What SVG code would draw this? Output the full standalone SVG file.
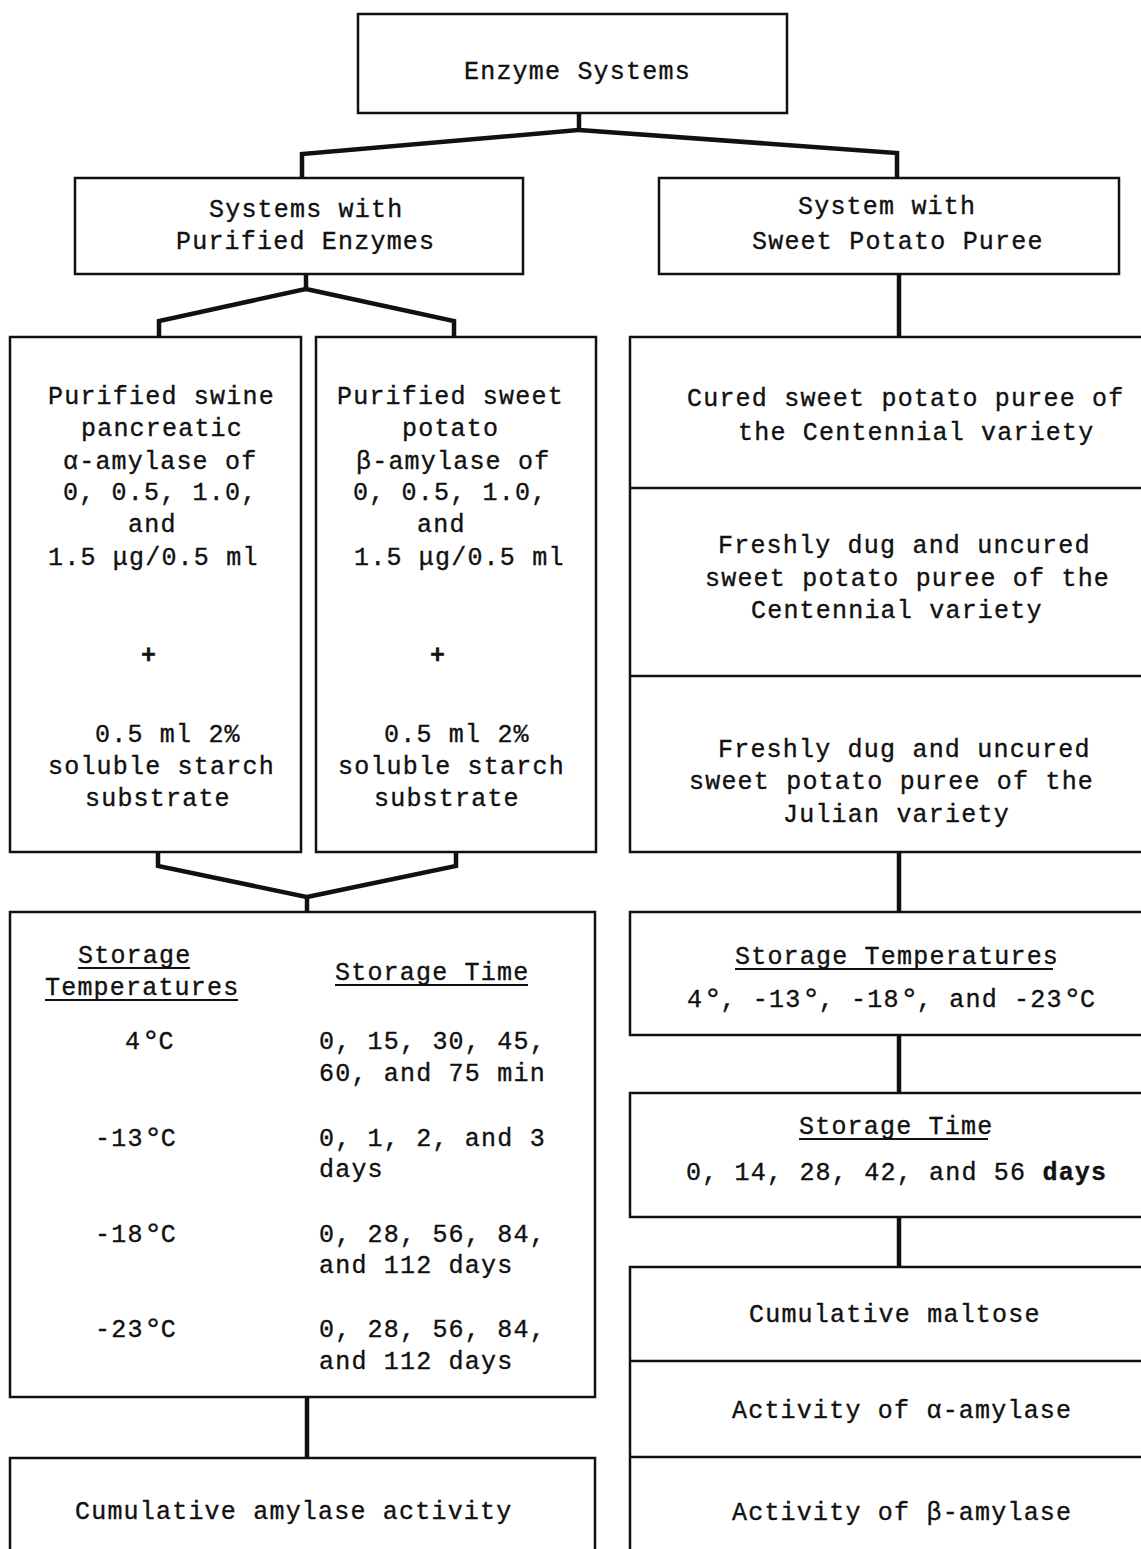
<svg xmlns="http://www.w3.org/2000/svg" width="1141" height="1549" viewBox="0 0 1141 1549">
<style>
 .box{fill:none;stroke:#111;stroke-width:2.5}
 .div{stroke:#111;stroke-width:2.5}
 .conn{fill:none;stroke:#111;stroke-width:4.5;stroke-linejoin:miter}
 text{font-family:"Liberation Mono","DejaVu Sans Mono",monospace;font-size:25px;letter-spacing:1.2px;fill:#111;stroke:#111;stroke-width:0.35}
 .ul{stroke:#111;stroke-width:2}
 .deg{font-size:32px;letter-spacing:-2px}
 .plus{font-weight:bold}
 .b{font-weight:bold}
</style>
<rect width="1141" height="1549" fill="#fff"/>
<g id="connectors">
 <path class="conn" d="M579,113 V130 L302,154 V178 M579,130 L897,153 V178"/>
 <path class="conn" d="M306,274 V289 L159,321 V337 M306,289 L454,321 V337"/>
 <path class="conn" d="M899,274 V337"/>
 <path class="conn" d="M158,852 V866 L307,897 V912 M456,852 V866 L307,897"/>
 <path class="conn" d="M307,1397 V1458"/>
 <path class="conn" d="M899,852 V912"/>
 <path class="conn" d="M899,1035 V1093"/>
 <path class="conn" d="M899,1217 V1267"/>
</g>
<g id="n-enzyme-systems">
 <rect class="box" x="358" y="14" width="429" height="99"/>
 <text x="464" y="79">Enzyme Systems</text>
</g>
<g id="n-purified-systems">
 <rect class="box" x="75" y="178" width="448" height="96"/>
 <text x="209" y="217">Systems with</text>
 <text x="176" y="249">Purified Enzymes</text>
</g>
<g id="n-sweet-system">
 <rect class="box" x="659" y="178" width="460" height="96"/>
 <text x="798" y="214">System with</text>
 <text x="752" y="249">Sweet Potato Puree</text>
</g>
<g id="n-alpha-amylase">
 <rect class="box" x="10" y="337" width="291" height="515"/>
 <text x="48" y="404">Purified swine</text>
 <text x="81" y="436">pancreatic</text>
 <text x="63" y="469">α-amylase of</text>
 <text x="63" y="500">0, 0.5, 1.0,</text>
 <text x="128" y="532">and</text>
 <text x="48" y="565">1.5 μg/0.5 ml</text>
 <text class="plus" x="141" y="663">+</text>
 <text x="95" y="742">0.5 ml 2%</text>
 <text x="48" y="774">soluble starch</text>
 <text x="85" y="806">substrate</text>
</g>
<g id="n-beta-amylase">
 <rect class="box" x="316" y="337" width="280" height="515"/>
 <text x="337" y="404">Purified sweet</text>
 <text x="402" y="436">potato</text>
 <text x="356" y="469">β-amylase of</text>
 <text x="353" y="500">0, 0.5, 1.0,</text>
 <text x="417" y="532">and</text>
 <text x="354" y="565">1.5 μg/0.5 ml</text>
 <text class="plus" x="430" y="663">+</text>
 <text x="384" y="742">0.5 ml 2%</text>
 <text x="338" y="774">soluble starch</text>
 <text x="374" y="806">substrate</text>
</g>
<g id="n-puree">
 <rect class="box" x="630" y="337" width="530" height="515"/>
 <line class="div" x1="630" y1="488" x2="1160" y2="488"/>
 <line class="div" x1="630" y1="676" x2="1160" y2="676"/>
 <text x="687" y="406">Cured sweet potato puree of</text>
 <text x="738" y="440">the Centennial variety</text>
 <text x="718" y="553">Freshly dug and uncured</text>
 <text x="705" y="586">sweet potato puree of the</text>
 <text x="751" y="618">Centennial variety</text>
 <text x="718" y="757">Freshly dug and uncured</text>
 <text x="689" y="789">sweet potato puree of the</text>
 <text x="783" y="822">Julian variety</text>
</g>
<g id="n-storage-left">
 <rect class="box" x="10" y="912" width="585" height="485"/>
 <text x="78" y="963">Storage</text>
 <line class="ul" x1="78" y1="968" x2="190" y2="968"/>
 <text x="45" y="995">Temperatures</text>
 <line class="ul" x1="45" y1="1000" x2="238" y2="1000"/>
 <text x="335" y="980">Storage Time</text>
 <line class="ul" x1="335" y1="985" x2="528" y2="985"/>
 <text x="125" y="1049">4<tspan class="deg" dy="2">°</tspan><tspan dy="-2">C</tspan></text>
 <text x="95" y="1146">-13<tspan class="deg" dy="2">°</tspan><tspan dy="-2">C</tspan></text>
 <text x="95" y="1242">-18<tspan class="deg" dy="2">°</tspan><tspan dy="-2">C</tspan></text>
 <text x="95" y="1337">-23<tspan class="deg" dy="2">°</tspan><tspan dy="-2">C</tspan></text>
 <text x="319" y="1049">0, 15, 30, 45,</text>
 <text x="319" y="1081">60, and 75 min</text>
 <text x="319" y="1146">0, 1, 2, and 3</text>
 <text x="319" y="1177">days</text>
 <text x="319" y="1242">0, 28, 56, 84,</text>
 <text x="319" y="1273">and 112 days</text>
 <text x="319" y="1337">0, 28, 56, 84,</text>
 <text x="319" y="1369">and 112 days</text>
</g>
<g id="n-cumulative-amylase">
 <rect class="box" x="10" y="1458" width="585" height="110"/>
 <text x="75" y="1519">Cumulative amylase activity</text>
</g>
<g id="n-storage-temperatures">
 <rect class="box" x="630" y="912" width="530" height="123"/>
 <text x="735" y="964">Storage Temperatures</text>
 <line class="ul" x1="735" y1="969" x2="1053" y2="969"/>
 <text x="687" y="1007">4<tspan class="deg" dy="2">°</tspan><tspan dy="-2">, -13</tspan><tspan class="deg" dy="2">°</tspan><tspan dy="-2">, -18</tspan><tspan class="deg" dy="2">°</tspan><tspan dy="-2">, and -23</tspan><tspan class="deg" dy="2">°</tspan><tspan dy="-2">C</tspan></text>
</g>
<g id="n-storage-time">
 <rect class="box" x="630" y="1093" width="530" height="124"/>
 <text x="799" y="1134">Storage Time</text>
 <line class="ul" x1="799" y1="1139" x2="988" y2="1139"/>
 <text x="686" y="1180">0, 14, 28, 42, and 56 <tspan class="b">days</tspan></text>
</g>
<g id="n-outputs">
 <rect class="box" x="630" y="1267" width="530" height="300"/>
 <line class="div" x1="630" y1="1361" x2="1160" y2="1361"/>
 <line class="div" x1="630" y1="1457" x2="1160" y2="1457"/>
 <text x="749" y="1322">Cumulative maltose</text>
 <text x="732" y="1418">Activity of α-amylase</text>
 <text x="732" y="1520">Activity of β-amylase</text>
</g>
</svg>
